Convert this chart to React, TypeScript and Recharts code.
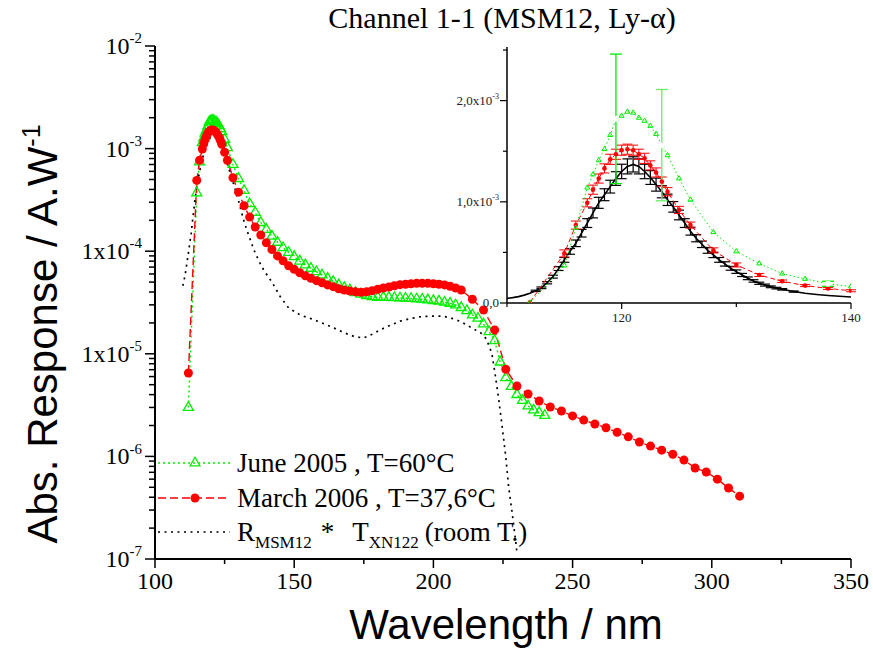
import React from "react";
import { ComposedChart, Line, XAxis, YAxis, ErrorBar } from "recharts";

const SERIF = "'Liberation Serif', 'Times New Roman', serif";
const SANS = "'Liberation Sans', Arial, sans-serif";
const GREEN = "#00ee00";
const RED = "#ff0000";

// June 2005, T=60°C
const juneNm = [
  112, 115, 116, 117, 117.5, 118, 118.5, 119, 119.5, 120, 120.5, 121, 121.5, 122, 122.5, 123, 123.5, 124, 125, 126,
  128, 130, 132, 134, 136, 138, 140, 142, 144, 146, 148, 150, 152, 154, 156, 158, 160, 162, 164, 166, 168, 170,
  172, 174, 176, 178, 180, 182, 184, 186, 188, 190, 192, 194, 196, 198, 200, 202, 204, 206, 208, 210, 212, 214,
  216, 218, 220, 222, 224, 226, 228, 230, 232, 234, 236, 238, 240,
];
const juneVal = [
  3.0e-6, 3.7e-4, 7.4e-4, 1.14e-3, 1.27e-3, 1.41e-3, 1.52e-3, 1.66e-3, 1.82e-3, 1.85e-3, 1.89e-3, 1.88e-3, 1.83e-3,
  1.8e-3, 1.75e-3, 1.67e-3, 1.56e-3, 1.46e-3, 1.23e-3, 1.02e-3, 7.0e-4, 5.1e-4, 3.9e-4, 2.9e-4, 2.38e-4, 1.9e-4,
  1.63e-4, 1.4e-4, 1.22e-4, 1.08e-4, 9.7e-5, 8.85e-5, 8.0e-5, 7.35e-5, 6.8e-5, 6.3e-5, 5.86e-5, 5.44e-5, 5.05e-5,
  4.7e-5, 4.42e-5, 4.19e-5, 3.95e-5, 3.8e-5, 3.68e-5, 3.6e-5, 3.55e-5, 3.55e-5, 3.54e-5, 3.52e-5, 3.5e-5, 3.48e-5,
  3.46e-5, 3.42e-5, 3.4e-5, 3.35e-5, 3.3e-5, 3.26e-5, 3.18e-5, 3.1e-5, 2.99e-5, 2.82e-5, 2.63e-5, 2.39e-5, 2.22e-5,
  1.95e-5, 1.64e-5, 1.34e-5, 8.3e-6, 5.85e-6, 4.8e-6, 4.0e-6, 3.5e-6, 3.1e-6, 2.83e-6, 2.67e-6, 2.5e-6,
];
const juneErrNm = [119.5, 123.5, 138];
const juneErr = [6.4e-4, 5.5e-4, 2.5e-5];
const juneErrColor = ["#00ee00", "#66ee66", "#00ee00"];

// March 2006, T=37,6°C
const marchNm = [
  112, 115, 116, 117, 117.5, 118, 118.5, 119, 119.5, 120, 120.5, 121, 121.5, 122, 122.5, 123, 123.5, 124, 125, 126,
  128, 130, 132, 134, 136, 138, 140, 142, 144, 146, 148, 150, 152, 154, 156, 158, 160, 162, 164, 166, 168, 170,
  172, 174, 176, 178, 180, 182, 184, 186, 188, 190, 192, 194, 196, 198, 200, 202, 204, 206, 208, 210, 214, 218,
  222, 226, 230, 234, 238, 242, 246, 250, 254, 258, 262, 266, 270, 274, 278, 282, 286, 290, 294, 298, 302, 306, 310,
];
const marchVal = [
  6.5e-6, 4.9e-4, 7.7e-4, 9.9e-4, 1.12e-3, 1.23e-3, 1.33e-3, 1.42e-3, 1.47e-3, 1.51e-3, 1.52e-3, 1.51e-3, 1.47e-3,
  1.43e-3, 1.36e-3, 1.29e-3, 1.2e-3, 1.1e-3, 9.2e-4, 7.7e-4, 5.2e-4, 3.76e-4, 2.77e-4, 2.15e-4, 1.72e-4, 1.44e-4,
  1.21e-4, 1.04e-4, 9.0e-5, 8.07e-5, 7.22e-5, 6.66e-5, 6.17e-5, 5.77e-5, 5.44e-5, 5.16e-5, 4.93e-5, 4.69e-5, 4.51e-5,
  4.31e-5, 4.19e-5, 4.09e-5, 4.03e-5, 3.98e-5, 4.03e-5, 4.12e-5, 4.25e-5, 4.38e-5, 4.48e-5, 4.61e-5, 4.72e-5, 4.76e-5,
  4.82e-5, 4.86e-5, 4.87e-5, 4.86e-5, 4.82e-5, 4.76e-5, 4.69e-5, 4.55e-5, 4.38e-5, 4.19e-5, 3.4e-5, 2.67e-5, 1.71e-5,
  7.07e-6, 4.86e-6, 4.06e-6, 3.47e-6, 3.03e-6, 2.77e-6, 2.48e-6, 2.26e-6, 2.07e-6, 1.9e-6, 1.72e-6, 1.55e-6, 1.38e-6,
  1.26e-6, 1.15e-6, 1.05e-6, 9.2e-7, 7.7e-7, 7.05e-7, 6.0e-7, 4.92e-7, 4.1e-7,
];
// error bars of the March points shown in the inset (112 .. 140 nm)
const marchErr = [
  0, 3.5e-5, 4.0e-5, 4.0e-5, 4.5e-5, 4.5e-5, 4.5e-5, 5.0e-5, 5.0e-5, 5.0e-5, 5.0e-5, 5.0e-5, 5.0e-5, 5.0e-5, 4.5e-5,
  4.5e-5, 4.5e-5, 4.0e-5, 3.5e-5, 3.0e-5, 2.5e-5, 2.0e-5, 1.5e-5, 1.2e-5, 1.0e-5, 1.0e-5, 1.0e-5,
];

// R_MSM12 * T_XN122 (room T.)
const calcNm = [
  110, 110.5, 111, 111.5, 112, 112.5, 113, 113.5, 114, 114.5, 115, 115.5, 116, 116.5, 117, 117.5, 118, 118.5, 119,
  119.5, 120, 120.5, 121, 121.5, 122, 122.5, 123, 123.5, 124, 124.5, 125, 125.5, 126, 126.5, 127, 127.5, 128, 128.5,
  129, 129.5, 130, 130.5, 131, 131.5, 132, 132.5, 133, 133.5, 134, 135, 136, 137, 138, 139, 140, 142, 145, 148, 152,
  156, 160, 164, 168, 172, 175, 178, 181, 185, 188, 192, 195, 199, 203, 206, 210, 213, 217, 219, 221, 222.3, 223.5,
  224.7, 226, 227, 228.3, 229.5, 230.1,
];
const calcVal = [
  4.6e-5, 5.3e-5, 6.3e-5, 7.8e-5, 9.6e-5, 1.2e-4, 1.5e-4, 2.0e-4, 2.6e-4, 3.4e-4, 4.26e-4, 5.1e-4, 5.9e-4, 6.9e-4,
  7.9e-4, 8.9e-4, 9.9e-4, 1.07e-3, 1.15e-3, 1.23e-3, 1.3e-3, 1.35e-3, 1.37e-3, 1.35e-3, 1.3e-3, 1.24e-3, 1.17e-3,
  1.1e-3, 1.02e-3, 9.5e-4, 8.7e-4, 7.9e-4, 7.1e-4, 6.4e-4, 5.8e-4, 5.2e-4, 4.75e-4, 4.26e-4, 3.86e-4, 3.43e-4,
  3.1e-4, 2.77e-4, 2.44e-4, 2.18e-4, 1.95e-4, 1.77e-4, 1.6e-4, 1.47e-4, 1.35e-4, 1.13e-4, 9.6e-5, 8.4e-5, 7.4e-5,
  6.6e-5, 6.0e-5, 5.0e-5, 3.6e-5, 2.8e-5, 2.4e-5, 2.2e-5, 2.0e-5, 1.8e-5, 1.6e-5, 1.46e-5, 1.43e-5, 1.55e-5, 1.72e-5,
  1.92e-5, 2.08e-5, 2.21e-5, 2.29e-5, 2.33e-5, 2.33e-5, 2.25e-5, 2.05e-5, 1.84e-5, 1.6e-5, 1.4e-5, 1.01e-5, 6.0e-6,
  3.55e-6, 1.95e-6, 9.9e-7, 5.1e-7, 2.8e-7, 1.53e-7, 1.1e-7,
];
const calcRelErr = 0.055;

const xTicks = [100, 125, 150, 175, 200, 225, 250, 275, 300, 325, 350];
const xMajor = [100, 150, 200, 250, 300, 350];
const yMajor = [1e-7, 1e-6, 1e-5, 1e-4, 1e-3, 1e-2];
const yLabels = ["10^-7", "10^-6", "1x10^-5", "1x10^-4", "10^-3", "10^-2"];
const yTicks = yMajor.flatMap((d, i) =>
  i === yMajor.length - 1 ? [d] : [1, 2, 3, 4, 5, 6, 7, 8, 9].map((m) => m * d)
);

const insetXTicks = [110, 120, 130, 140];
const insetXLabels = [120, 140];
const insetYTicks = [0, 5e-4, 1e-3, 1.5e-3, 2e-3, 2.5e-3];
const insetYMajor = [0, 1e-3, 2e-3];
const insetYLabels = ["0,0", "1,0x10^-3", "2,0x10^-3"];

const june = juneNm.map((nm, i) => ({ nm, v: juneVal[i] }));
const march = marchNm.map((nm, i) => ({ nm, v: marchVal[i], e: marchErr[i] ?? 0 }));
const calc = calcNm.map((nm, i) => ({
  nm,
  v: calcVal[i],
  e: nm >= 112.5 && nm <= 135 ? calcVal[i] * calcRelErr : 0,
}));
const juneErrPts = juneErrNm.map((nm, i) => [{ nm, v: juneVal[juneNm.indexOf(nm)], e: juneErr[i] }]);

const insetJune = june.filter((d) => d.nm <= 140);
const insetMarch = march.filter((d) => d.nm <= 140);
const insetCalc = calc.filter((d) => d.nm <= 140);

const isDecade = (v: number) => Math.abs(Math.log10(v) - Math.round(Math.log10(v))) < 1e-6;

function SupText({ x, y, text, size, anchor, fill = "#000" }: any) {
  const [base, sup] = String(text).split("^");
  return (
    <text x={x} y={y} fontSize={size} fontFamily={SERIF} textAnchor={anchor} fill={fill}>
      {base}
      {sup && (
        <tspan dy={-size * 0.45} fontSize={size * 0.62}>
          {sup}
        </tspan>
      )}
    </text>
  );
}

const BottomTick = ({ x, y, payload }: any) => {
  const major = xMajor.includes(payload.value);
  return (
    <g>
      <line x1={x} x2={x} y1={y} y2={y + (major ? 9 : 5)} stroke="#000" strokeWidth={1.5} />
      {major && (
        <text x={x} y={y + 30} textAnchor="middle" fontSize={24} fontFamily={SERIF}>
          {payload.value}
        </text>
      )}
    </g>
  );
};

const TopTick = ({ x, y, payload }: any) => {
  const major = xMajor.includes(payload.value);
  return <line x1={x} x2={x} y1={y} y2={y + (major ? 10 : 6)} stroke="#000" strokeWidth={1.5} />;
};

const LeftTick = ({ x, y, payload }: any) => {
  const major = isDecade(payload.value);
  const idx = yMajor.findIndex((d) => Math.abs(d - payload.value) / d < 1e-6);
  return (
    <g>
      <line x1={x - (major ? 10 : 6)} x2={x} y1={y} y2={y} stroke="#000" strokeWidth={1.5} />
      {major && idx >= 0 && <SupText x={x - 13} y={y + 8} text={yLabels[idx]} size={24} anchor="end" />}
    </g>
  );
};

const RightTick = ({ x, y, payload }: any) => {
  const major = isDecade(payload.value);
  return <line x1={x} x2={x - (major ? 10 : 6)} y1={y} y2={y} stroke="#000" strokeWidth={1.5} />;
};

const InsetBottomTick = ({ x, y, payload }: any) => {
  const lab = insetXLabels.includes(payload.value);
  return (
    <g>
      <line x1={x} x2={x} y1={y} y2={y + (lab ? 6 : 4)} stroke="#000" strokeWidth={1.2} />
      {lab && (
        <text x={x} y={y + 19} textAnchor="middle" fontSize={13} fontFamily={SERIF} fill="#222">
          {payload.value}
        </text>
      )}
    </g>
  );
};

const InsetLeftTick = ({ x, y, payload }: any) => {
  const idx = insetYMajor.findIndex((d) => Math.abs(d - payload.value) < 1e-9);
  return (
    <g>
      <line x1={x - (idx >= 0 ? 7 : 4)} x2={x} y1={y} y2={y} stroke="#000" strokeWidth={1.2} />
      {idx >= 0 && <SupText x={x - 8} y={y + 4} text={insetYLabels[idx]} size={13} anchor="end" fill="#222" />}
    </g>
  );
};

const triDot = (s: number, w: number) => (p: any) => {
  const { cx, cy, index } = p;
  if (cx == null || cy == null) return <g key={index} />;
  const h = s * 0.866;
  return (
    <path
      key={index}
      d={`M${cx},${cy - (2 * h) / 3}L${cx + s / 2},${cy + h / 3}L${cx - s / 2},${cy + h / 3}Z`}
      fill="none"
      stroke={GREEN}
      strokeWidth={w}
    />
  );
};

const circDot = (r: number) => (p: any) => {
  const { cx, cy, index } = p;
  if (cx == null || cy == null) return <g key={index} />;
  return <circle key={index} cx={cx} cy={cy} r={r} fill={RED} />;
};

const layer: React.CSSProperties = { position: "absolute", left: 0, top: 0 };

export default function App() {
  return (
    <div style={{ position: "absolute", left: 0, top: 0, width: 873, height: 651, background: "#fff" }}>
      <div style={layer}>
        <ComposedChart width={873} height={651} margin={{ top: 46, right: 22, bottom: 52, left: 75 }}>
          <XAxis
            xAxisId="b"
            dataKey="nm"
            type="number"
            domain={[100, 350]}
            ticks={xTicks}
            interval={0}
            height={40}
            tickSize={0}
            tickMargin={0}
            tick={<BottomTick />}
            tickLine={false}
            axisLine={{ stroke: "#000", strokeWidth: 2 }}
            allowDataOverflow
          />
          <XAxis
            xAxisId="t"
            orientation="top"
            dataKey="nm"
            type="number"
            domain={[100, 350]}
            ticks={xTicks}
            interval={0}
            height={0}
            tickSize={0}
            tickMargin={0}
            tick={<TopTick />}
            tickLine={false}
            axisLine={{ stroke: "#000", strokeWidth: 2 }}
          />
          <YAxis
            yAxisId="l"
            dataKey="v"
            type="number"
            scale="log"
            domain={[1e-7, 1e-2]}
            ticks={yTicks}
            interval={0}
            width={80}
            tickSize={0}
            tickMargin={0}
            tick={<LeftTick />}
            tickLine={false}
            axisLine={{ stroke: "#000", strokeWidth: 2 }}
            allowDataOverflow
          />
          <YAxis
            yAxisId="r"
            orientation="right"
            dataKey="v"
            type="number"
            scale="log"
            domain={[1e-7, 1e-2]}
            ticks={yTicks}
            interval={0}
            width={0}
            tickSize={0}
            tickMargin={0}
            tick={<RightTick />}
            tickLine={false}
            axisLine={{ stroke: "#000", strokeWidth: 2 }}
          />
          <Line
            xAxisId="b"
            yAxisId="l"
            data={june}
            dataKey="v"
            type="linear"
            stroke={GREEN}
            strokeWidth={1.4}
            strokeDasharray="2 3"
            dot={triDot(10, 1.3)}
            activeDot={false}
            isAnimationActive={false}
          />
          <Line
            xAxisId="b"
            yAxisId="l"
            data={march}
            dataKey="v"
            type="linear"
            stroke={RED}
            strokeWidth={1.4}
            strokeDasharray="8 4"
            dot={circDot(4.5)}
            activeDot={false}
            isAnimationActive={false}
          />
          <Line
            xAxisId="b"
            yAxisId="l"
            data={calc}
            dataKey="v"
            type="linear"
            stroke="#000"
            strokeWidth={1.7}
            strokeDasharray="2 4.5"
            dot={false}
            activeDot={false}
            isAnimationActive={false}
          />
        </ComposedChart>
      </div>

      <div style={layer}>
        <ComposedChart width={873} height={651} margin={{ top: 47, right: 22, bottom: 318, left: 447 }}>
          <XAxis
            xAxisId="b"
            dataKey="nm"
            type="number"
            domain={[110, 140]}
            ticks={insetXTicks}
            interval={0}
            height={30}
            tickSize={0}
            tickMargin={0}
            tick={<InsetBottomTick />}
            tickLine={false}
            axisLine={{ stroke: "#000", strokeWidth: 1.5 }}
            allowDataOverflow
          />
          <XAxis
            xAxisId="t"
            orientation="top"
            dataKey="nm"
            type="number"
            domain={[110, 140]}
            height={0}
            tick={false}
            tickLine={false}
            axisLine={{ stroke: "#000", strokeWidth: 1.5 }}
          />
          <YAxis
            yAxisId="l"
            dataKey="v"
            type="number"
            domain={[0, 2.53e-3]}
            ticks={insetYTicks}
            interval={0}
            width={60}
            tickSize={0}
            tickMargin={0}
            tick={<InsetLeftTick />}
            tickLine={false}
            axisLine={{ stroke: "#000", strokeWidth: 1.5 }}
            allowDataOverflow
          />
          <YAxis
            yAxisId="r"
            orientation="right"
            dataKey="v"
            type="number"
            domain={[0, 2.53e-3]}
            width={0}
            tick={false}
            tickLine={false}
            axisLine={{ stroke: "#000", strokeWidth: 1.5 }}
          />
          <Line
            xAxisId="b"
            yAxisId="l"
            data={insetCalc}
            dataKey="v"
            type="linear"
            stroke="#000"
            strokeWidth={1.6}
            dot={false}
            activeDot={false}
            isAnimationActive={false}
          >
            <ErrorBar dataKey="e" width={5} stroke="#000" strokeWidth={1.2} isAnimationActive={false} />
          </Line>
          <Line
            xAxisId="b"
            yAxisId="l"
            data={insetMarch}
            dataKey="v"
            type="linear"
            stroke={RED}
            strokeWidth={1}
            strokeDasharray="5 3"
            dot={circDot(2.3)}
            activeDot={false}
            isAnimationActive={false}
          >
            <ErrorBar dataKey="e" width={5} stroke={RED} strokeWidth={1} isAnimationActive={false} />
          </Line>
          <Line
            xAxisId="b"
            yAxisId="l"
            data={insetJune}
            dataKey="v"
            type="linear"
            stroke={GREEN}
            strokeWidth={1}
            strokeDasharray="1.5 2.5"
            dot={triDot(5, 1)}
            activeDot={false}
            isAnimationActive={false}
          />
          {juneErrPts.map((pts, i) => (
            <Line
              key={i}
              xAxisId="b"
              yAxisId="l"
              data={pts}
              dataKey="v"
              stroke="none"
              dot={false}
              activeDot={false}
              isAnimationActive={false}
            >
              <ErrorBar dataKey="e" width={6} stroke={juneErrColor[i]} strokeWidth={1.3} isAnimationActive={false} />
            </Line>
          ))}
        </ComposedChart>
      </div>

      <svg width={873} height={651} style={{ ...layer, pointerEvents: "none" }}>
        <text x={502} y={28} textAnchor="middle" fontSize={30} fontFamily={SERIF}>
          Channel 1-1 (MSM12, Ly-α)
        </text>
        <text
          transform="translate(57,334) rotate(-90)"
          textAnchor="middle"
          fontSize={42}
          fontFamily={SANS}
        >
          Abs. Response / A.W
          <tspan dy={-17} fontSize={25}>
            -1
          </tspan>
        </text>
        <text x={506} y={639} textAnchor="middle" fontSize={42} fontFamily={SANS}>
          Wavelength / nm
        </text>

        <line x1={158} x2={230} y1={463} y2={463} stroke={GREEN} strokeWidth={1.5} strokeDasharray="2 3" />
        <path d="M195,457.2L200,465.9L190,465.9Z" fill="none" stroke={GREEN} strokeWidth={1.3} />
        <text x={237} y={472} fontSize={27} fontFamily={SERIF}>
          June 2005 , T=60°C
        </text>

        <line x1={158} x2={230} y1={498} y2={498} stroke={RED} strokeWidth={1.5} strokeDasharray="8 4" />
        <circle cx={195} cy={498} r={4.5} fill={RED} />
        <text x={237} y={507} fontSize={27} fontFamily={SERIF}>
          March 2006 , T=37,6°C
        </text>

        <line x1={158} x2={230} y1={532} y2={532} stroke="#000" strokeWidth={1.7} strokeDasharray="2 4.5" />
        <text x={237} y={541} fontSize={27} fontFamily={SERIF}>
          R
          <tspan dy={7} fontSize={17}>
            MSM12
          </tspan>
          <tspan dy={-7} dx={9}>
            *
          </tspan>
          <tspan dx={18}>T</tspan>
          <tspan dy={7} fontSize={17}>
            XN122
          </tspan>
          <tspan dy={-7} dx={6}>
            (room T.)
          </tspan>
        </text>
      </svg>
    </div>
  );
}
